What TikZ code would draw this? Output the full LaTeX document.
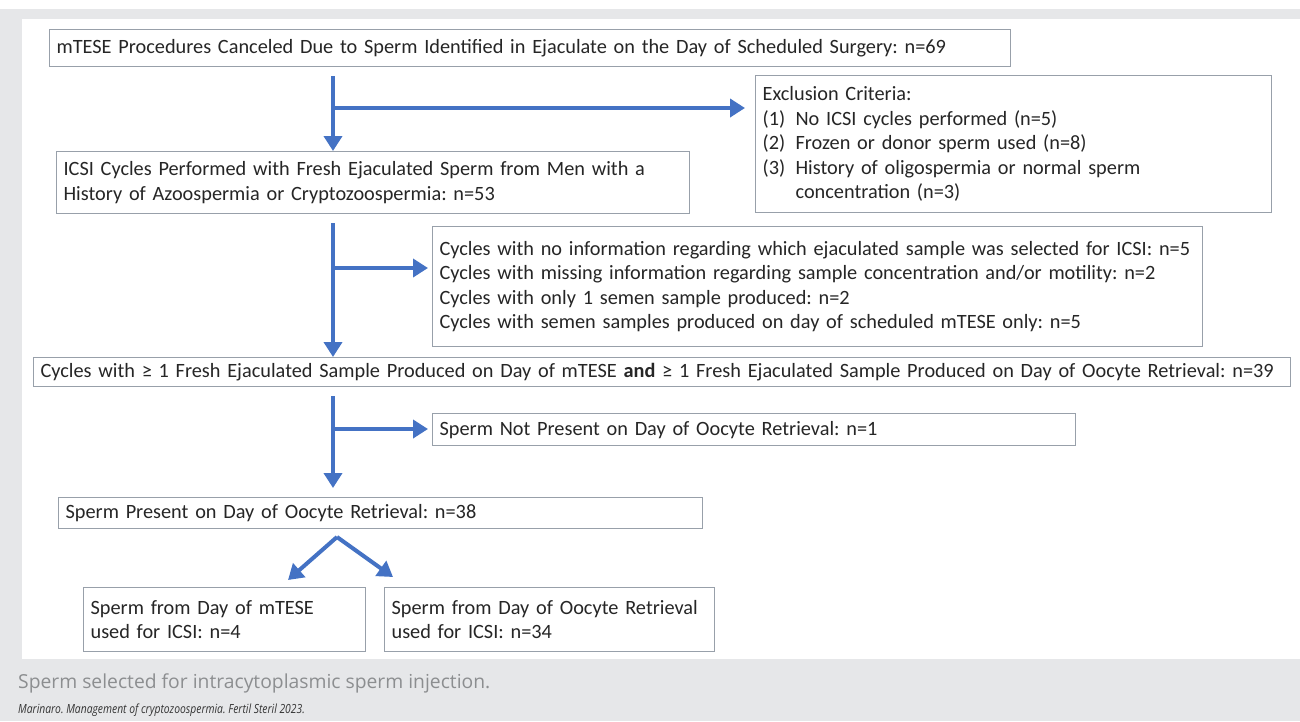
\documentclass[tikz,border=0pt]{standalone}
\usepackage{fontspec}
\setmainfont{Carlito}
\newfontfamily\capfont{Open Sans}
\usetikzlibrary{arrows.meta}
\frenchspacing
\definecolor{arrblue}{HTML}{4472C4}
\definecolor{boxline}{HTML}{98A0AA}
\definecolor{pagegray}{HTML}{E6E7E9}
\definecolor{capgray}{HTML}{8C8E90}
\tikzset{
	box/.style={draw=boxline,line width=1.2pt,anchor=north west,inner xsep=7pt,inner ysep=0pt,align=left,text=black!85,font=\fontsize{20.3}{24.5}\selectfont},
	arr/.style={draw=arrblue,line width=4pt,-{Triangle[width=18pt,length=15pt]}}
}
\begin{document}
\begin{tikzpicture}[x=1pt,y=-1pt]
	\useasboundingbox (0,0) rectangle (1300,721);
	\fill[pagegray] (0,9) rectangle (1300,721);
	\fill[white] (22,19) rectangle (1300,659);
	%BOXES
	\node[box,text width=947pt,minimum height=37pt] (cancel) at (49,29) {mTESE Procedures Canceled Due to Sperm Identified in Ejaculate on the Day of Scheduled Surgery: n=69};
	\node[box,text width=502pt,minimum height=137pt] (excl) at (755,75) {Exclusion Criteria:\\
		\makebox[33pt][l]{(1)}No ICSI cycles performed (n=5)\\
		\makebox[33pt][l]{(2)}Frozen or donor sperm used (n=8)\\
		\makebox[33pt][l]{(3)}History of oligospermia or normal sperm\\
		\hspace*{33pt}concentration (n=3)};
	\node[box,text width=619pt,minimum height=62pt] (icsi) at (56,151) {ICSI Cycles Performed with Fresh Ejaculated Sperm from Men with a\\History of Azoospermia or Cryptozoospermia: n=53};
	\node[box,text width=756pt,minimum height=120pt] (noinfo) at (432,226) {Cycles with no information regarding which ejaculated sample was selected for ICSI: n=5\\
		Cycles with missing information regarding sample concentration and/or motility: n=2\\
		Cycles with only 1 semen sample produced: n=2\\
		Cycles with semen samples produced on day of scheduled mTESE only: n=5};
	\node[box,text width=1243pt,minimum height=29pt] (fresh) at (33,357) {Cycles with ≥ 1 Fresh Ejaculated Sample Produced on Day of mTESE \textbf{and} ≥ 1 Fresh Ejaculated Sample Produced on Day of Oocyte Retrieval: n=39};
	\node[box,text width=629pt,minimum height=32pt] (absent) at (432,413) {Sperm Not Present on Day of Oocyte Retrieval: n=1};
	\node[box,text width=630pt,minimum height=31pt] (present) at (58,497) {Sperm Present on Day of Oocyte Retrieval: n=38};
	\node[box,text width=268pt,minimum height=64pt] (mtese) at (83,587) {Sperm from Day of mTESE\\used for ICSI: n=4};
	\node[box,text width=316pt,minimum height=64pt] (oocyte) at (384,587) {Sperm from Day of Oocyte Retrieval\\used for ICSI: n=34};
	%ARROWS
	\coordinate (j1) at (333,108);
	\coordinate (j2) at (333,268);
	\coordinate (j3) at (333,429);
	\draw[arr,shorten <=9pt] (cancel.south -| j1) -- (icsi.north -| j1);
	\draw[arr,shorten >=10pt] (j1) -- (j1 -| excl.west);
	\draw[arr,shorten <=9pt] (icsi.south -| j2) -- (fresh.north -| j2);
	\draw[arr,shorten >=4pt] (j2) -- (j2 -| noinfo.west);
	\draw[arr,shorten <=9pt,shorten >=9pt] (fresh.south -| j3) -- (present.north -| j3);
	\draw[arr,shorten >=4pt] (j3) -- (j3 -| absent.west);
	\coordinate (apex) at (337,537);
	\coordinate (tipl) at (288,580);
	\coordinate (tipr) at (393,577);
	\draw[arr] (apex) -- (tipl);
	\draw[arr] (apex) -- (tipr);
	%CAPTION
	\node[anchor=west,inner sep=0pt,text=capgray,font=\capfont\fontsize{19.3}{22}\selectfont] (cap) at (18,683) {Sperm selected for intracytoplasmic sperm injection.};
	\node[anchor=west,inner sep=0pt,text=black!80,font=\capfont\itshape\fontsize{12.6}{14}\selectfont] (cite) at (18,710) {\scalebox{0.82}[1]{Marinaro. Management of cryptozoospermia. Fertil Steril 2023.}};
\end{tikzpicture}
\end{document}
